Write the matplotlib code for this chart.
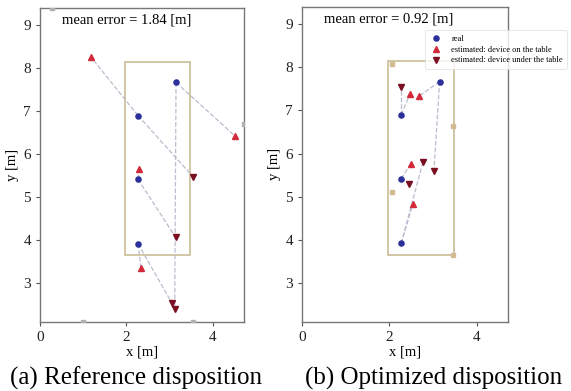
import matplotlib
matplotlib.use("Agg")
import matplotlib.pyplot as plt
from matplotlib.patches import Rectangle

plt.rcParams['font.family'] = ['Liberation Serif', 'DejaVu Serif']

# real device positions (same in both panels)
real_x = [2.27, 3.15, 2.27, 2.27]
real_y = [6.90, 7.67, 5.42, 3.92]

# (a) reference disposition estimates
ref_on_x = [1.18, 4.52, 2.30, 2.34]
ref_on_y = [8.26, 6.42, 5.65, 3.35]
ref_under_x = [3.55, 3.12, 3.14, 3.05]
ref_under_y = [5.47, 2.40, 4.07, 2.55]
ref_anchor_x = [0.28, 4.72, 1.00, 3.55]
ref_anchor_y = [9.40, 6.70, 2.10, 2.10]
ref_error = 1.84

# (b) optimized disposition estimates
opt_on_x = [2.47, 2.68, 2.49, 2.54]
opt_on_y = [7.38, 7.33, 5.77, 4.84]
opt_under_x = [2.27, 3.02, 2.45, 2.77]
opt_under_y = [7.55, 5.60, 5.30, 5.81]
opt_anchor_x = [2.07, 3.46, 2.05, 3.46]
opt_anchor_y = [8.08, 6.65, 5.10, 3.66]
opt_error = 0.92

# table outline
table_x0, table_x1 = 1.97, 3.48
table_y0, table_y1 = 3.65, 8.14


def draw_panel(ax, on_x, on_y, under_x, under_y, anc_x, anc_y, anc_color, err):
    ax.add_patch(Rectangle((table_x0, table_y0), table_x1 - table_x0, table_y1 - table_y0,
                           fill=False, edgecolor='#c9bc95', lw=1.2, zorder=1))
    # dashed links real -> estimates
    for i in range(len(real_x)):
        ax.plot([real_x[i], on_x[i]], [real_y[i], on_y[i]], ls='--', color='#bcbcce', lw=0.9, zorder=2)
        ax.plot([real_x[i], under_x[i]], [real_y[i], under_y[i]], ls='--', color='#bcbcce', lw=0.9, zorder=2)
    ax.plot(anc_x, anc_y, 's', color=anc_color, ms=3.5, zorder=3)
    ax.plot(real_x, real_y, 'o', color='#2b2f9a', ms=3.7, ls='none', label='real', zorder=4)
    ax.plot(on_x, on_y, '^', color='#d12a3a', ms=3.7, ls='none', label='estimated: device on the table', zorder=4)
    ax.plot(under_x, under_y, 'v', color='#7a0f22', ms=3.7, ls='none', label='estimated: device under the table', zorder=4)
    ax.text(0.5, 9.12, 'mean error = %.2f [m]' % err, fontsize=10.5, va='center', ha='left')

    ax.set_xlim(0, 4.72)
    ax.set_ylim(2.1, 9.4)
    ax.set_xticks([0, 2, 4])
    ax.set_yticks([3, 4, 5, 6, 7, 8, 9])
    ax.tick_params(labelsize=11, length=3, width=0.8, colors='#555555', labelcolor='#222222')
    for s in ax.spines.values():
        s.set_color('#777777')
        s.set_linewidth(1.0)
    ax.set_xlabel('x [m]', fontsize=10.5, labelpad=1)
    ax.set_ylabel('y [m]', fontsize=10.5, labelpad=3)


fig = plt.figure(figsize=(5.71, 3.91), dpi=100)
ax1 = fig.add_axes([0.070, 0.1765, 0.357, 0.803])
ax2 = fig.add_axes([0.529, 0.1765, 0.361, 0.806])

draw_panel(ax1, ref_on_x, ref_on_y, ref_under_x, ref_under_y,
           ref_anchor_x, ref_anchor_y, '#b0b0b0', ref_error)
draw_panel(ax2, opt_on_x, opt_on_y, opt_under_x, opt_under_y,
           opt_anchor_x, opt_anchor_y, '#d2bb92', opt_error)

leg = ax2.legend(loc='upper left', bbox_to_anchor=(0.595, 0.925), fontsize=6,
                 frameon=True, borderpad=0.5, labelspacing=0.35, handletextpad=0.9,
                 handlelength=1.8, borderaxespad=0)
leg.get_frame().set_edgecolor('#dddddd')
leg.get_frame().set_linewidth(0.6)

fig.text(0.238, 0.033, '(a) Reference disposition', fontsize=18, ha='center', va='center')
fig.text(0.760, 0.033, '(b) Optimized disposition', fontsize=18, ha='center', va='center')

fig.savefig('out.png', dpi=100)
